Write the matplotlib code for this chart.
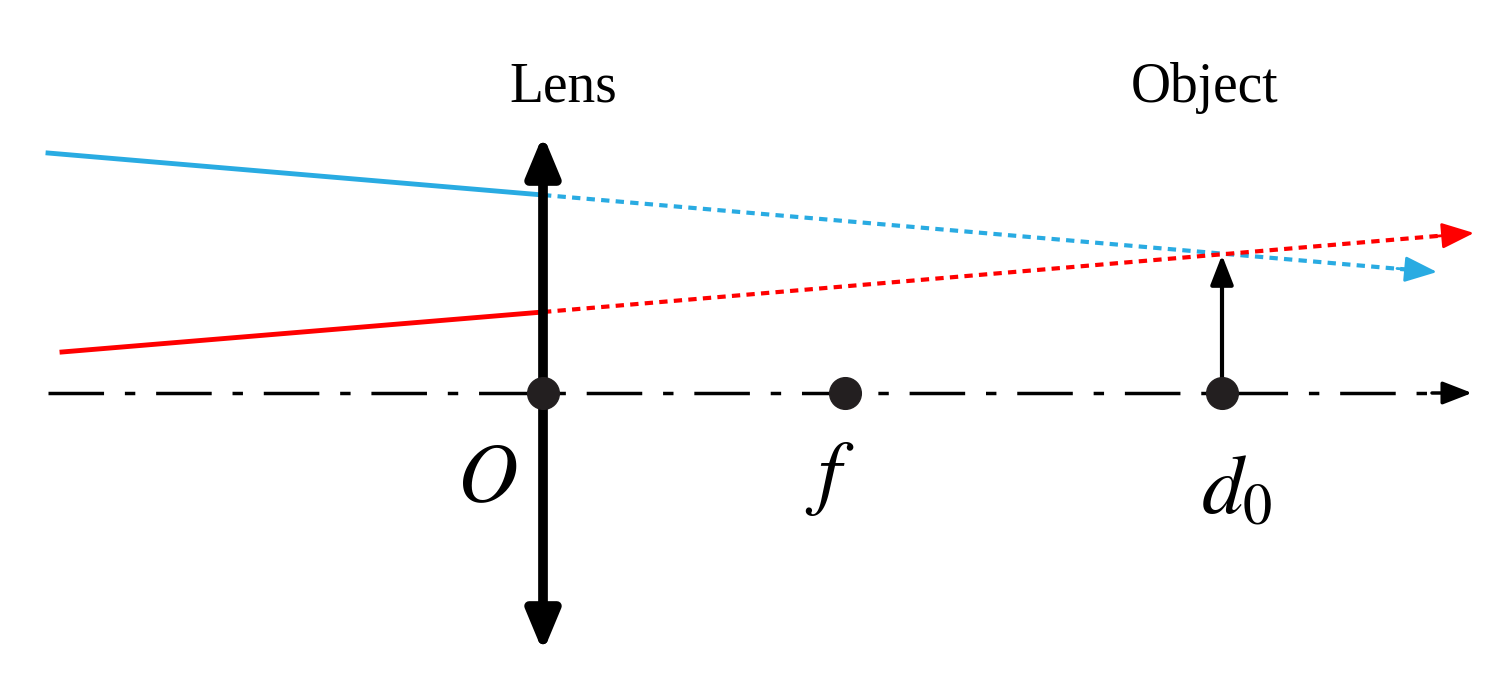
import matplotlib
matplotlib.use("Agg")
import matplotlib.pyplot as plt

# diagram geometry (pixel-like coordinates)
axis_x = [48, 1472]; axis_y = 393
lens_x = 543; lens_y = [135, 652]
points_x = [543, 845, 1222]
obj_top = 255
blue_solid = ([48, 543], [153, 195]); blue_dot = ([543, 1437], [195, 272])
red_solid = ([62, 543], [352, 312]); red_dot = ([543, 1474], [312, 233])
labels = [("Lens", 563, 88), ("Object", 1205, 88)]
sym = [("$O$", 487, 478), ("$f$", 830, 478), ("$d_{\\mathit{0}}$", 1237, 490)]

fig = plt.figure(figsize=(15.03, 7), dpi=100)
ax = fig.add_axes([0, 0, 1, 1])
ax.set_xlim(0, 1503); ax.set_ylim(700, 0); ax.axis("off")
plt.rcParams['mathtext.fontset'] = 'stix'

BLUE = "#29abe2"; RED = "#ff0000"
ax.plot([axis_x[0], axis_x[1]-20], [axis_y]*2, color="black", lw=2.5, dashes=(16, 6, 3, 6))
ax.annotate("", xy=(axis_x[1], axis_y), xytext=(axis_x[1]-40, axis_y),
            arrowprops=dict(arrowstyle="-|>,head_length=1.8,head_width=0.7", color="black", lw=2.5, shrinkA=0, shrinkB=0))
ax.annotate("", xy=(lens_x, lens_y[0]), xytext=(lens_x, lens_y[1]),
            arrowprops=dict(arrowstyle="<|-|>,head_length=2.4,head_width=1.0", color="black", lw=7, shrinkA=0, shrinkB=0))
ax.plot(*blue_solid, color=BLUE, lw=3.5)
ax.plot(*red_solid, color=RED, lw=3.5)
ax.plot(blue_dot[0][:1]+[blue_dot[0][1]-25], [blue_dot[1][0], blue_dot[1][1]-2], color=BLUE, lw=3, ls=(0, (2, 1.5)))
ax.plot(red_dot[0][:1]+[red_dot[0][1]-25], [red_dot[1][0], red_dot[1][1]+2], color=RED, lw=3, ls=(0, (2, 1.5)))
ax.annotate("", xy=(blue_dot[0][1], blue_dot[1][1]), xytext=(blue_dot[0][1]-40, blue_dot[1][1]-3.5),
            arrowprops=dict(arrowstyle="-|>,head_length=2.0,head_width=0.8", color=BLUE, lw=2, shrinkA=0, shrinkB=0))
ax.annotate("", xy=(red_dot[0][1], red_dot[1][1]), xytext=(red_dot[0][1]-40, red_dot[1][1]+3.4),
            arrowprops=dict(arrowstyle="-|>,head_length=2.0,head_width=0.8", color=RED, lw=2, shrinkA=0, shrinkB=0))
ax.annotate("", xy=(points_x[2], obj_top), xytext=(points_x[2], axis_y),
            arrowprops=dict(arrowstyle="-|>,head_length=1.8,head_width=0.7", color="black", lw=3, shrinkA=0, shrinkB=0))
ax.scatter(points_x, [axis_y]*3, s=520, color="#231f20", zorder=5)
for t, x, y in labels:
    ax.text(x, y, t, fontsize=40, family="Liberation Serif", ha="center", va="center")
for t, x, y in sym:
    ax.text(x, y, t, fontsize=60, ha="center", va="center")
fig.savefig("out.png", dpi=100)
